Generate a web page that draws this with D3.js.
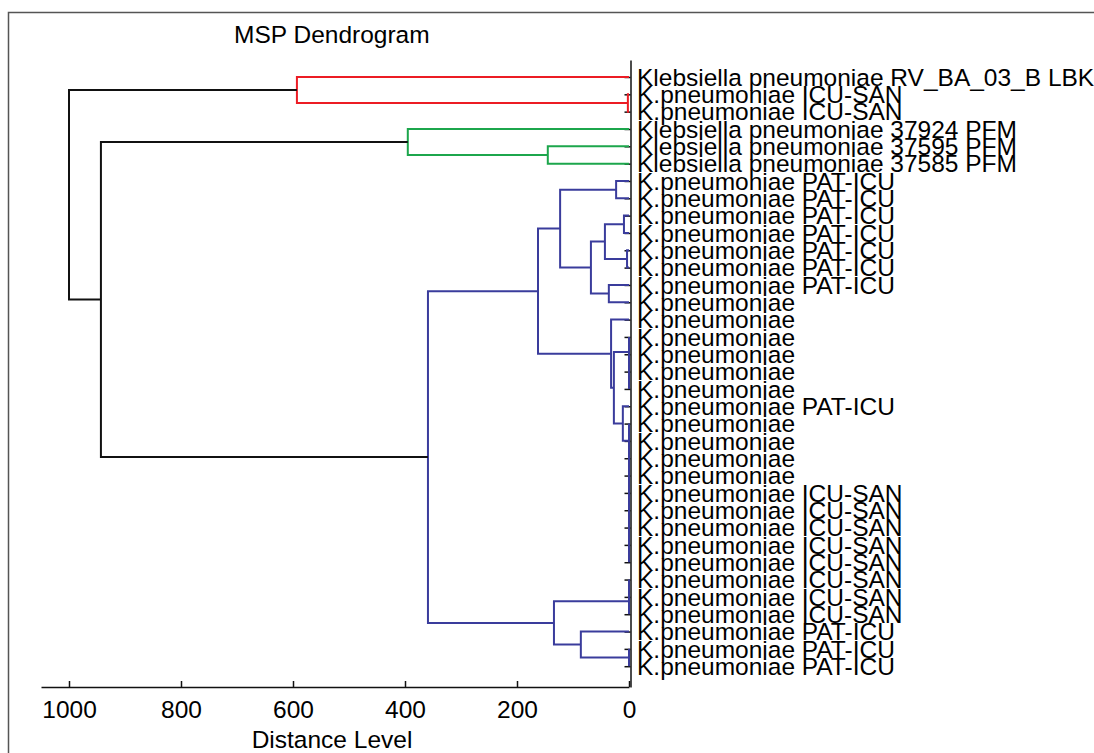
<!DOCTYPE html>
<html>
<head>
<meta charset="utf-8">
<script src="https://cdn.jsdelivr.net/npm/d3@7"></script>
<style>
    body { margin: 0; background: #fff; }
    text { font-family: "Liberation Sans", Arial, sans-serif; fill: #000; }
</style>
</head>
<body>
<div id="chart"></div>
<script>
// leaves, top to bottom
const leafLabels = [
    "Klebsiella pneumoniae RV_BA_03_B LBK",
    "K.pneumoniae ICU-SAN",
    "K.pneumoniae ICU-SAN",
    "Klebsiella pneumoniae 37924 PFM",
    "Klebsiella pneumoniae 37595 PFM",
    "Klebsiella pneumoniae 37585 PFM",
    "K.pneumoniae PAT-ICU",
    "K.pneumoniae PAT-ICU",
    "K.pneumoniae PAT-ICU",
    "K.pneumoniae PAT-ICU",
    "K.pneumoniae PAT-ICU",
    "K.pneumoniae PAT-ICU",
    "K.pneumoniae PAT-ICU",
    "K.pneumoniae",
    "K.pneumoniae",
    "K.pneumoniae",
    "K.pneumoniae",
    "K.pneumoniae",
    "K.pneumoniae",
    "K.pneumoniae PAT-ICU",
    "K.pneumoniae",
    "K.pneumoniae",
    "K.pneumoniae",
    "K.pneumoniae",
    "K.pneumoniae ICU-SAN",
    "K.pneumoniae ICU-SAN",
    "K.pneumoniae ICU-SAN",
    "K.pneumoniae ICU-SAN",
    "K.pneumoniae ICU-SAN",
    "K.pneumoniae ICU-SAN",
    "K.pneumoniae ICU-SAN",
    "K.pneumoniae ICU-SAN",
    "K.pneumoniae PAT-ICU",
    "K.pneumoniae PAT-ICU",
    "K.pneumoniae PAT-ICU"
];

// linkage rows: [left, right, distance, cluster]
// ids < 35 are leaves, id 35 + k is merge k
const merges = [
    [1, 2, 2, "red"],        // 35
    [0, 35, 593, "red"],     // 36
    [4, 5, 145, "green"],    // 37
    [3, 37, 395, "green"],   // 38
    [6, 7, 23, "blue"],      // 39
    [8, 9, 9, "blue"],       // 40
    [10, 11, 3.5, "blue"],   // 41
    [40, 41, 43, "blue"],    // 42
    [12, 13, 36, "blue"],    // 43
    [42, 43, 68, "blue"],    // 44
    [39, 44, 123, "blue"],   // 45
    [17, 18, 0, "blue"],     // 46
    [16, 46, 0, "blue"],     // 47
    [15, 47, 0, "blue"],     // 48
    [27, 28, 0, "blue"],     // 49
    [26, 49, 0, "blue"],     // 50
    [25, 50, 0, "blue"],     // 51
    [24, 51, 0, "blue"],     // 52
    [23, 52, 0, "blue"],     // 53
    [22, 53, 0, "blue"],     // 54
    [21, 54, 0, "blue"],     // 55
    [20, 55, 0, "blue"],     // 56
    [19, 56, 11, "blue"],    // 57
    [48, 57, 27, "blue"],    // 58
    [14, 58, 32, "blue"],    // 59
    [45, 59, 162.5, "blue"], // 60
    [29, 30, 0, "blue"],     // 61
    [61, 31, 0, "blue"],     // 62
    [33, 34, 0, "blue"],     // 63
    [32, 63, 86, "blue"],    // 64
    [62, 64, 134, "blue"],   // 65
    [60, 65, 359, "blue"],   // 66
    [38, 66, 943, "black"],  // 67
    [36, 67, 1000, "black"]  // 68
];

const distanceTicks = [0, 200, 400, 600, 800, 1000];

const clusterColour = {red: "#ec1c24", green: "#1ca64c", blue: "#3a3c9c", black: "#111"};

var width = 1094, height = 753;

var svg = d3.select("#chart")
    .append("svg")
    .attr("width", width)
    .attr("height", height);

// frame
svg.append("path")
    .attr("d", "M8.5," + height + "V12.5H" + width)
    .attr("fill", "none")
    .attr("stroke", "#555")
    .attr("stroke-width", 1.5);

var x = d3.scaleLinear()
    .domain([0, 1050])
    .range([629, 41]);

var y = d3.scaleLinear()
    .domain([-0.98, 35.2])
    .range([60, 687]);

// distance axis
var xAxis = svg.append("g")
    .attr("transform", "translate(0,687)")
    .call(d3.axisBottom(x)
        .tickValues(distanceTicks)
        .tickFormat(d3.format("d"))
        .tickSize(-6)
        .tickSizeOuter(0)
        .tickPadding(14));
xAxis.selectAll("path, line").attr("stroke", "#111").attr("stroke-width", 1.5);
xAxis.selectAll("text")
    .style("font-size", "24.5px")
    .style("font-family", "'Liberation Sans', Arial, sans-serif")
    .attr("fill", "#000");

// leaf axis
var yAxis = svg.append("g")
    .attr("transform", "translate(630.5,0)")
    .call(d3.axisLeft(y)
        .tickValues(d3.range(leafLabels.length))
        .tickSize(6)
        .tickSizeOuter(0)
        .tickFormat(""));
yAxis.selectAll("path, line").attr("stroke", "#111").attr("stroke-width", 1.5);

// node positions
var nodes = leafLabels.map((d, i) => ({x: x(0), y: y(i)}));
merges.forEach(m => {
    const a = nodes[m[0]], b = nodes[m[1]];
    nodes.push({x: x(m[2]), y: (a.y + b.y) / 2, a: a, b: b, cluster: m[3]});
});

svg.append("g")
    .selectAll("path")
    .data(nodes.filter(n => n.a))
    .enter().append("path")
    .attr("d", n => "M" + n.a.x + "," + n.a.y + "H" + n.x + "V" + n.b.y + "H" + n.b.x)
    .attr("fill", "none")
    .attr("stroke", n => clusterColour[n.cluster])
    .attr("stroke-width", 2);

// leaf labels
svg.append("g")
    .selectAll("text")
    .data(leafLabels)
    .enter().append("text")
    .attr("x", 637)
    .attr("y", (d, i) => y(i) + 8.8)
    .style("font-size", "24.5px")
    .text(d => d);

svg.append("text")
    .attr("x", 234)
    .attr("y", 43)
    .style("font-size", "24.5px")
    .text("MSP Dendrogram");

svg.append("text")
    .attr("x", 332)
    .attr("y", 748)
    .attr("text-anchor", "middle")
    .style("font-size", "24.5px")
    .text("Distance Level");
</script>
</body>
</html>
